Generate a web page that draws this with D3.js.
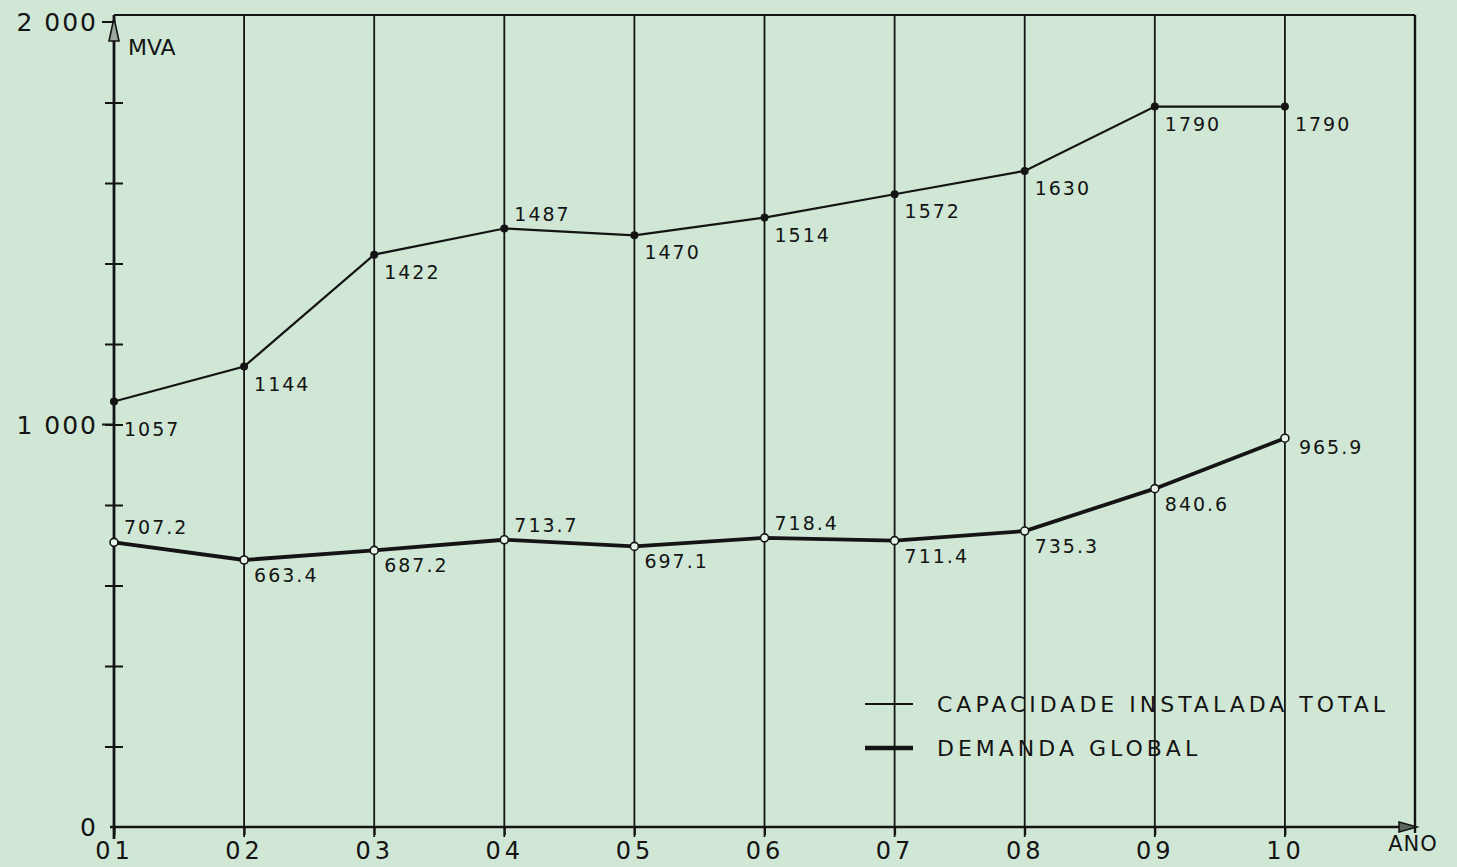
<!DOCTYPE html>
<html>
<head>
<meta charset="utf-8">
<script src="https://cdn.jsdelivr.net/npm/d3@7"></script>
<style>
  body { margin: 0; background: #cfe7d4; }
  svg text { font-family: "DejaVu Sans", sans-serif; fill: #141414; }
</style>
</head>
<body>
<div id="card"></div>
<script>
// data
const years = ["01", "02", "03", "04", "05", "06", "07", "08", "09", "10"];
const capacidade = [1057, 1144, 1422, 1487, 1470, 1514, 1572, 1630, 1790, 1790];
const demanda = [707.2, 663.4, 687.2, 713.7, 697.1, 718.4, 711.4, 735.3, 840.6, 965.9];
const capLabels = ["1057", "1144", "1422", "1487", "1470", "1514", "1572", "1630", "1790", "1790"];
const demLabels = ["707.2", "663.4", "687.2", "713.7", "697.1", "718.4", "711.4", "735.3", "840.6", "965.9"];
const yTickLabels = [0, 1000, 2000];
const yMinorTicks = [200, 400, 600, 800, 1000, 1200, 1400, 1600, 1800];
const legendNames = ["CAPACIDADE INSTALADA TOTAL", "DEMANDA GLOBAL"];

const w = 1457, h = 867;
const ink = "#141414";

const svg = d3.select("#card").append("svg")
  .attr("width", w).attr("height", h);

const x = d3.scaleLinear().domain([0, 10]).range([114, 1415]);
const y = d3.scaleLinear().domain([0, 2000]).range([827, 22]);
const topY = 15;

// frame: top and right border
svg.append("line").attr("x1", x(0)).attr("x2", x(10)).attr("y1", topY).attr("y2", topY)
  .attr("stroke", ink).attr("stroke-width", 2.2);
svg.append("line").attr("x1", x(10)).attr("x2", x(10)).attr("y1", topY).attr("y2", y(0) + 6)
  .attr("stroke", ink).attr("stroke-width", 2.4);

// vertical gridlines for each year
svg.append("g").selectAll("line")
  .data(years.slice(1))
  .enter().append("line")
    .attr("x1", (d, i) => x(i + 1)).attr("x2", (d, i) => x(i + 1))
    .attr("y1", topY).attr("y2", y(0) + 10)
    .attr("stroke", ink).attr("stroke-width", 1.8);

// y axis with arrow
svg.append("line").attr("x1", x(0)).attr("x2", x(0)).attr("y1", topY).attr("y2", y(0) + 12)
  .attr("stroke", ink).attr("stroke-width", 2.8);
svg.append("path")
  .attr("d", `M${x(0)},${topY + 3} L${x(0) - 5},${topY + 26} L${x(0) + 5},${topY + 26} Z`)
  .attr("fill", "#9aa89c").attr("stroke", ink).attr("stroke-width", 1.6);

const yAxis = d3.axisLeft(y).tickValues(yMinorTicks).tickSize(9).tickFormat("");
const yg = svg.append("g").attr("transform", `translate(${x(0)},0)`).call(yAxis);
yg.select(".domain").remove();
yg.selectAll(".tick line").attr("x2", -9).attr("x1", 9).attr("stroke", ink).attr("stroke-width", 2);

svg.append("g").selectAll("text")
  .data(yTickLabels)
  .enter().append("text")
    .attr("x", x(0) - 16)
    .attr("y", d => y(d) + 9)
    .attr("text-anchor", "end")
    .style("font-size", "25px")
    .style("letter-spacing", "2px")
    .text(d => d === 0 ? "0" : d3.format(",")(d).replace(",", " "));
svg.append("line").attr("x1", x(0) - 12).attr("x2", x(0)).attr("y1", y(1000)).attr("y2", y(1000))
  .attr("stroke", ink).attr("stroke-width", 2);
svg.append("line").attr("x1", x(0) - 12).attr("x2", x(0)).attr("y1", y(2000)).attr("y2", y(2000))
  .attr("stroke", ink).attr("stroke-width", 2);

svg.append("text").attr("x", x(0) + 14).attr("y", 55)
  .style("font-size", "22px").text("MVA");

// x axis with arrow
svg.append("line").attr("x1", x(0) - 4).attr("x2", x(10) - 4).attr("y1", y(0)).attr("y2", y(0))
  .attr("stroke", ink).attr("stroke-width", 2.6);
svg.append("path")
  .attr("d", `M${x(10) + 2},${y(0)} L${x(10) - 16},${y(0) - 5} L${x(10) - 16},${y(0) + 5} Z`)
  .attr("fill", "#5c665d").attr("stroke", ink).attr("stroke-width", 1.5);

const xAxis = d3.axisBottom(x).tickValues(d3.range(10)).tickSize(8).tickFormat((d) => years[d]);
const xg = svg.append("g").attr("transform", `translate(0,${y(0)})`).call(xAxis);
xg.select(".domain").remove();
xg.selectAll(".tick line").attr("stroke", ink).attr("stroke-width", 2);
xg.selectAll(".tick text")
  .attr("y", 15)
  .style("font-size", "24px")
  .style("letter-spacing", "4px")
  .style("font-family", "DejaVu Sans, sans-serif")
  .attr("fill", ink);

svg.append("text").attr("x", x(10) - 2).attr("y", y(0) + 24)
  .attr("text-anchor", "middle").style("font-size", "21px").style("letter-spacing", "1px").text("ANO");

// lines
const line = d3.line().x((d, i) => x(i)).y(d => y(d));

svg.append("path").datum(capacidade)
  .attr("d", line).attr("fill", "none")
  .attr("stroke", ink).attr("stroke-width", 2.2);

svg.append("path").datum(demanda)
  .attr("d", line).attr("fill", "none")
  .attr("stroke", ink).attr("stroke-width", 3.8);

svg.append("g").selectAll("circle")
  .data(capacidade)
  .enter().append("circle")
    .attr("cx", (d, i) => x(i)).attr("cy", d => y(d))
    .attr("r", 4).attr("fill", ink);

svg.append("g").selectAll("circle")
  .data(demanda)
  .enter().append("circle")
    .attr("cx", (d, i) => x(i)).attr("cy", d => y(d))
    .attr("r", 4).attr("fill", "#e8f3ea").attr("stroke", ink).attr("stroke-width", 1.6);

// value labels: most sit below-right of the point, a few above
const capAbove = [3];
const demAbove = [0, 3, 5];

svg.append("g").selectAll("text")
  .data(capacidade)
  .enter().append("text")
    .attr("x", (d, i) => x(i) + 10)
    .attr("y", (d, i) => y(d) + (capAbove.includes(i) ? -7 : (i === 0 ? 34 : 24)))
    .style("font-size", "19px")
    .style("letter-spacing", "2px")
    .text((d, i) => capLabels[i]);

svg.append("g").selectAll("text")
  .data(demanda)
  .enter().append("text")
    .attr("x", (d, i) => x(i) + (i === 9 ? 14 : 10))
    .attr("y", (d, i) => y(d) + (demAbove.includes(i) ? -8 : (i === 9 ? 16 : 22)))
    .style("font-size", "19px")
    .style("letter-spacing", "2px")
    .text((d, i) => demLabels[i]);

// legend
const legend = svg.append("g").attr("transform", "translate(865,704)");
legend.selectAll("line")
  .data(legendNames)
  .enter().append("line")
    .attr("x1", 0).attr("x2", 48)
    .attr("y1", (d, i) => i * 44).attr("y2", (d, i) => i * 44)
    .attr("stroke", ink).attr("stroke-width", (d, i) => i === 0 ? 2 : 4.5);
legend.selectAll("text")
  .data(legendNames)
  .enter().append("text")
    .attr("x", 72)
    .attr("y", (d, i) => i * 44 + 8)
    .style("font-size", "22px")
    .style("letter-spacing", "4px")
    .text(d => d);
</script>
</body>
</html>
